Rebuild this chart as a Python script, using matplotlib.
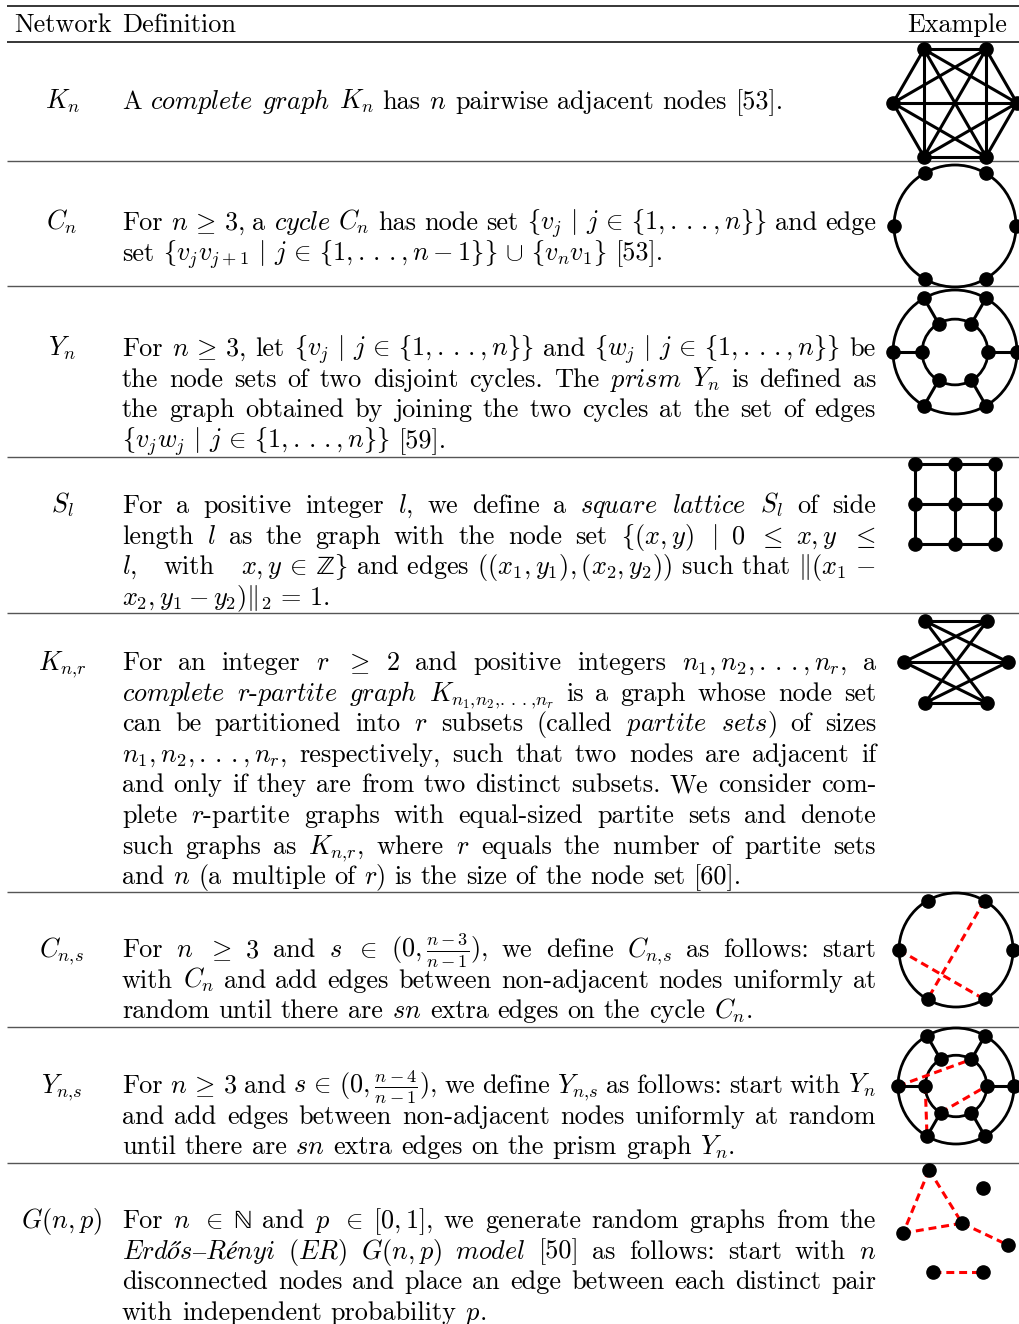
import matplotlib
matplotlib.use("Agg")
import matplotlib.pyplot as plt
from matplotlib.patches import Circle
import numpy as np
from itertools import combinations

plt.rcParams['font.family'] = ['cmr10', 'DejaVu Serif']
plt.rcParams['mathtext.fontset'] = 'cm'
plt.rcParams['axes.unicode_minus'] = False

# ---------------- table content ----------------
header_left = "Network"
header_mid = "Definition"
header_right = "Example"

labels = [r"$K_n$", r"$C_n$", r"$Y_n$", r"$S_l$", r"$K_{n,\!r}$", r"$C_{n,\!s}$", r"$Y_{n,\!s}$", r"$G(n,p)$"]

def_Kn = [
    r"A $\mathit{complete}$ $\mathit{graph}$ $K_n$ has $n$ pairwise adjacent nodes [53].",
]
def_Cn = [
    r"For $n\geq3$, a $\mathit{cycle}$ $C_n$ has node set $\{v_j\mid j\in\{1,\ldots,n\}\}$ and edge",
    r"set $\{v_jv_{j+1}\mid j\in\{1,\ldots,n-1\}\}\cup\{v_nv_1\}$ [53].",
]
def_Yn = [
    r"For $n\geq3$, let $\{v_j\mid j\in\{1,\ldots,n\}\}$ and $\{w_j\mid j\in\{1,\ldots,n\}\}$ be",
    r"the node sets of two disjoint cycles. The $\mathit{prism}$ $Y_n$ is defined as",
    r"the graph obtained by joining the two cycles at the set of edges",
    r"$\{v_jw_j\mid j\in\{1,\ldots,n\}\}$ [59].",
]
def_Sl = [
    r"For a positive integer $l$, we define a $\mathit{square}$ $\mathit{lattice}$ $S_l$ of side",
    r"length $l$ as the graph with the node set $\{(x,y)$ $\mid$ $0$ $\leq$ $x,y$ $\leq$",
    r"$l,$ with $x,y\in\mathrm{ℤ}\}$~and~edges~$((x_1,y_1),(x_2,y_2))$~such~that~$\Vert(x_1\,-$",
    r"$x_2,y_1-y_2)\Vert_2\,=\,1$.",
]
def_Knr = [
    r"For an integer $r$ $\geq$ $2$ and positive integers $n_1,n_2,\ldots,n_r$, a",
    r"$\mathit{complete}$ $r$-$\mathit{partite}$ $\mathit{graph}$ $K_{n_1,\!n_2,\!\ldots,\!n_r}$ is a graph whose node set",
    r"can be partitioned into $r$ subsets (called $\mathit{partite}$ $\mathit{sets}$) of sizes",
    r"$n_1,n_2,\ldots,n_r$, respectively, such that two nodes are adjacent if",
    r"and only if they are from two distinct subsets. We consider com-",
    r"plete $r$-partite graphs with equal-sized partite sets and denote",
    r"such graphs as $K_{n,\!r}$, where $r$ equals the number of partite sets",
    r"and $n$ (a multiple of $r$) is the size of the node set [60].",
]
def_Cns = [
    r"For $n$ $\geq$ $3$ and $s$ $\in$ $(0,\frac{n-3}{n-1})$, we define $C_{n,\!s}$ as follows: start",
    r"with $C_n$ and add edges between non-adjacent nodes uniformly at",
    r"random until there are $sn$ extra edges on the cycle $C_n$.",
]
def_Yns = [
    r"For $n\geq3$ and $s\in(0,\frac{n-4}{n-1})$, we define $Y_{n,\!s}$ as follows: start with $Y_n$",
    r"and add edges between non-adjacent nodes uniformly at random",
    r"until there are $sn$ extra edges on the prism graph $Y_n$.",
]
def_Gnp = [
    r"For $n$ $\in$ $\mathrm{ℕ}$ and $p$ $\in$ $[0,1]$, we generate random graphs from the",
    r"$\mathit{Erdős–Rényi}$ $\mathit{(ER)}$ $G(n,p)$ $\mathit{model}$ [50] as follows: start with $n$",
    r"disconnected nodes and place an edge between each distinct pair",
    r"with independent probability $p$.",
]
definitions = [def_Kn, def_Cn, def_Yn, def_Sl, def_Knr, def_Cns, def_Yns, def_Gnp]

# ---------------- example graph data (unitless layouts) ----------------
hex_angles = [0, 60, 120, 180, 240, 300]
prism_inner_ratio = 0.53
lattice_side = 2
bip_left_x = [-0.6, -1.0, -0.6]
bip_left_y = [0.79, 0.0, -0.79]
bip_right_x = [0.6, 1.0, 0.6]
bip_right_y = [0.79, 0.0, -0.79]
cns_extra_edges = [(1, 4), (3, 5)]
yns_extra_edges = [(("o", 3), ("i", 1)), (("i", 3), ("o", 4)), (("i", 4), ("i", 0))]
gnp_x = [-0.49, 0.49, 0.11, -0.96, 0.95, -0.42, 0.49]
gnp_y = [0.93, 0.60, -0.04, -0.22, -0.44, -0.93, -0.93]
gnp_edges = [(0, 3), (0, 2), (3, 2), (2, 4), (5, 6)]

# ---------------- layout ----------------
W, H, DPI = 1019, 1324, 100
FS = 18.9
XL, XR = 122, 876
LABEL_X = 62
LINE_SKIP = 30.6
row_first_baseline = [109, 230, 356, 513, 670, 957, 1093, 1228]
rule_y = [161, 286, 457, 613, 892, 1027, 1163]

fig = plt.figure(figsize=(W / DPI, H / DPI), dpi=DPI)
ax = fig.add_axes([0, 0, 1, 1])
ax.set_xlim(0, W)
ax.set_ylim(H, 0)
ax.axis("off")
renderer = fig.canvas.get_renderer()

RELATIONS = (r"\geq", r"\leq", r"\in", r"\mid")


def tex_fix(s):
    # text-size braces from cmsy10 (glyphs 'f' and 'g' of that font), TeX-like spacing
    s = s.replace(r"\{", r"\mathcal{f}").replace(r"\}", r"\mathcal{g}")
    s = s.replace(r"\ldots", r"{.}\,{.}\,{.}")
    if s.strip("$") not in RELATIONS:
        for rel in RELATIONS:
            s = s.replace(rel, r"\," + rel + r"\,")
        s = s.replace(r"\cup", r"\,\cup\,")
    return s


def tokenize(line):
    out, cur, inmath = [], "", False
    for ch in line:
        if ch == "$":
            inmath = not inmath
        if ch == " " and not inmath:
            if cur:
                out.append(cur)
            cur = ""
        else:
            cur += ch
    if cur:
        out.append(cur)
    return [tex_fix(t.replace("~", " ")) for t in out]


def width_of(t):
    return t.get_window_extent(renderer).width


probe1 = ax.text(0, -100, "a a", fontsize=FS)
probe2 = ax.text(0, -100, "aa", fontsize=FS)
SPACE = width_of(probe1) - width_of(probe2)
probe1.remove()
probe2.remove()


def draw_line(line, y, justify):
    toks = tokenize(line)
    arts = [ax.text(0, y, tk, fontsize=FS, va="baseline", ha="left", color="black") for tk in toks]
    ws = [width_of(a) for a in arts]
    if justify and len(toks) > 1:
        gap = (XR - XL - sum(ws)) / (len(toks) - 1)
    else:
        gap = SPACE
    x = XL
    for a, w in zip(arts, ws):
        a.set_x(x)
        x += w + gap


# header
ax.hlines(6, 7, W, color="black", lw=1.1)
ax.hlines(42, 7, W, color="black", lw=1.1)
ax.text(14, 32, header_left, fontsize=FS, va="baseline", ha="left")
ax.text(XL, 32, header_mid, fontsize=FS, va="baseline", ha="left")
ax.text(1007, 32, header_right, fontsize=FS, va="baseline", ha="right")

for lab, lines, yb in zip(labels, definitions, row_first_baseline):
    ax.text(LABEL_X, yb, lab, fontsize=FS, va="baseline", ha="center")
    for i, ln in enumerate(lines):
        draw_line(ln, yb + i * LINE_SKIP, justify=(i < len(lines) - 1))

for y in rule_y:
    ax.hlines(y, 7, W, color="#555555", lw=1.0)

# ---------------- example graphs ----------------
NODE = dict(marker="o", ms=9.5, color="black", ls="none", clip_on=False, zorder=4)
EDGE = dict(color="black", lw=2.2, clip_on=False, zorder=2)
RED = dict(color="red", lw=2.2, ls=(0, (2.6, 1.6)), clip_on=False, zorder=3)


def graph_ax(cx, cy, R):
    a = fig.add_axes([(cx - R) / W, 1 - (cy + R) / H, 2 * R / W, 2 * R / H])
    a.set_xlim(-1, 1)
    a.set_ylim(-1, 1)
    a.axis("off")
    return a


ang = np.deg2rad(hex_angles)
hx, hy = np.cos(ang), np.sin(ang)
ix, iy = prism_inner_ratio * hx, prism_inner_ratio * hy

# K_n
a = graph_ax(955, 103, 62)
for i, j in combinations(range(len(hx)), 2):
    a.plot([hx[i], hx[j]], [hy[i], hy[j]], **EDGE)
a.plot(hx, hy, **NODE)

# C_n
a = graph_ax(955, 226, 61)
a.add_patch(Circle((0, 0), 1, fill=False, ec="black", lw=2.0, clip_on=False))
a.plot(hx, hy, **NODE)


def prism(a):
    a.add_patch(Circle((0, 0), 1, fill=False, ec="black", lw=2.0, clip_on=False))
    a.add_patch(Circle((0, 0), prism_inner_ratio, fill=False, ec="black", lw=2.0, clip_on=False))
    for k in range(len(hx)):
        a.plot([ix[k], hx[k]], [iy[k], hy[k]], **EDGE)
    a.plot(hx, hy, **NODE)
    a.plot(ix, iy, **NODE)


# Y_n
a = graph_ax(955, 352, 62)
prism(a)

# S_l
a = graph_ax(955, 504, 40)
g = np.arange(lattice_side + 1) - lattice_side / 2
for v in g:
    a.plot([g[0], g[-1]], [v, v], **EDGE)
    a.plot([v, v], [g[0], g[-1]], **EDGE)
GX, GY = np.meshgrid(g, g)
a.plot(GX.ravel(), GY.ravel(), **NODE)

# K_{n,r}
a = graph_ax(956, 662, 52)
for xl, yl in zip(bip_left_x, bip_left_y):
    for xr, yr in zip(bip_right_x, bip_right_y):
        a.plot([xl, xr], [yl, yr], **EDGE)
a.plot(bip_left_x + bip_right_x, bip_left_y + bip_right_y, **NODE)

# C_{n,s}
a = graph_ax(956, 950, 57)
a.add_patch(Circle((0, 0), 1, fill=False, ec="black", lw=2.0, clip_on=False))
for i, j in cns_extra_edges:
    a.plot([hx[i], hx[j]], [hy[i], hy[j]], **RED)
a.plot(hx, hy, **NODE)

# Y_{n,s}
a = graph_ax(956, 1086, 58)
prism(a)
pts = {"o": (hx, hy), "i": (ix, iy)}
for (r1, k1), (r2, k2) in yns_extra_edges:
    a.plot([pts[r1][0][k1], pts[r2][0][k2]], [pts[r1][1][k1], pts[r2][1][k2]], **RED)

# G(n,p)
a = graph_ax(956, 1221, 55)
for i, j in gnp_edges:
    a.plot([gnp_x[i], gnp_x[j]], [gnp_y[i], gnp_y[j]], **RED)
a.plot(gnp_x, gnp_y, **NODE)

fig.savefig("out.png", dpi=DPI)
